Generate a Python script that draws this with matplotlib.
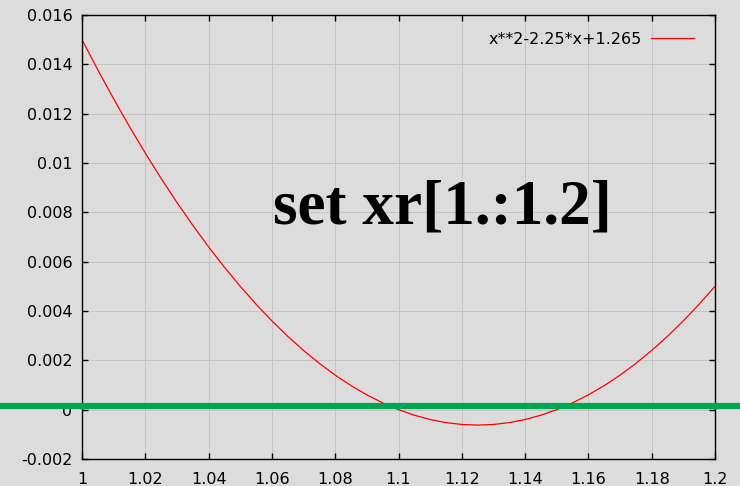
import matplotlib.pyplot as plt
import matplotlib.transforms as mtransforms

# values
xs = [1.000, 1.005, 1.010, 1.015, 1.020, 1.025, 1.030, 1.035, 1.040, 1.045,
      1.050, 1.055, 1.060, 1.065, 1.070, 1.075, 1.080, 1.085, 1.090, 1.095,
      1.100, 1.105, 1.110, 1.115, 1.120, 1.125, 1.130, 1.135, 1.140, 1.145,
      1.150, 1.155, 1.160, 1.165, 1.170, 1.175, 1.180, 1.185, 1.190, 1.195, 1.200]
ys = [0.015000, 0.013775, 0.012600, 0.011475, 0.010400, 0.009375, 0.008400, 0.007475,
      0.006600, 0.005775, 0.005000, 0.004275, 0.003600, 0.002975, 0.002400, 0.001875,
      0.001400, 0.000975, 0.000600, 0.000275, 0.000000, -0.000225, -0.000400, -0.000525,
      -0.000600, -0.000625, -0.000600, -0.000525, -0.000400, -0.000225, 0.000000,
      0.000275, 0.000600, 0.000975, 0.001400, 0.001875, 0.002400, 0.002975, 0.003600,
      0.004275, 0.005000]
curve_label = "x**2-2.25*x+1.265"

xticks = [1.0, 1.02, 1.04, 1.06, 1.08, 1.1, 1.12, 1.14, 1.16, 1.18, 1.2]
xtick_labels = ["1", "1.02", "1.04", "1.06", "1.08", "1.1", "1.12", "1.14", "1.16", "1.18", "1.2"]
yticks = [-0.002, 0.0, 0.002, 0.004, 0.006, 0.008, 0.01, 0.012, 0.014, 0.016]
ytick_labels = ["-0.002", "0", "0.002", "0.004", "0.006", "0.008", "0.01", "0.012", "0.014", "0.016"]

green_y = 0.00014
big_text = "set xr[1.:1.2]"

bg = "#dcdcdc"
fig = plt.figure(figsize=(7.4, 4.86), dpi=100, facecolor=bg)
ax = fig.add_axes([82 / 740, 27 / 486, 633 / 740, 444 / 486], facecolor=bg)

ax.plot(xs, ys, color="red", lw=0.9, label=curve_label)
ax.set_xlim(1.0, 1.2)
ax.set_ylim(-0.002, 0.016)

ax.set_xticks(xticks)
ax.set_xticklabels(xtick_labels)
ax.set_yticks(yticks)
ax.set_yticklabels(ytick_labels)
ax.tick_params(direction="in", length=4, width=1, top=True, right=True,
               labelsize=11.5)
ax.tick_params(axis="x", pad=9)
ax.tick_params(axis="y", pad=7)
for lab in ax.get_xticklabels() + ax.get_yticklabels():
    lab.set_fontfamily("DejaVu Sans")
ax.grid(True, color="#c4c4c4", lw=0.7)
for sp in ax.spines.values():
    sp.set_linewidth(1.0)
    sp.set_color("black")

leg = ax.legend(loc="upper right", bbox_to_anchor=(0.99, 0.995), frameon=False,
                markerfirst=False, handlelength=2.7, handletextpad=0.6,
                prop={"family": "DejaVu Sans", "size": 11.5})

ax.text(0.57, 0.565, big_text, transform=ax.transAxes, ha="center", va="center",
        fontsize=45.5, fontweight="bold", family="Liberation Serif")

# thick green line across the whole figure width
trans = mtransforms.blended_transform_factory(fig.transFigure, ax.transData)
ax.plot([0, 1], [green_y, green_y], transform=trans, color="#00a651", lw=4.5,
        clip_on=False, zorder=5, solid_capstyle="butt")

fig.savefig("out.png", dpi=100, facecolor=bg)
